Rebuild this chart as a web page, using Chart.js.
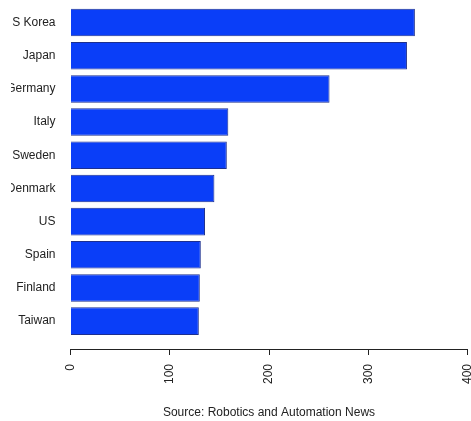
<!DOCTYPE html>
<html>
<head>
<meta charset="utf-8">
<script src="https://cdn.jsdelivr.net/npm/chart.js@4/dist/chart.umd.min.js"></script>
<style>
  html, body { margin: 0; padding: 0; background: #fff; }
  #clip { position: absolute; left: 11px; top: 0; width: 460px; height: 421px; overflow: hidden; }
  #c { position: absolute; left: -11px; top: 0; }
</style>
</head>
<body>
<div id="clip"><canvas id="c" width="471" height="421"></canvas></div>
<script>
const categories = ["S Korea", "Japan", "Germany", "Italy", "Sweden", "Denmark", "US", "Spain", "Finland", "Taiwan"];
const values = [347, 339, 261, 159, 157.5, 145, 135.5, 131.3, 130.3, 129.3];
const xTicks = [0, 100, 200, 300, 400];
const sourceText = "Source: Robotics and Automation News";

const font = { family: "'Liberation Sans', Arial, sans-serif", size: 12 };
const textColor = '#222';

function zeroPad(s) {
  s.paddingTop = 0; s.paddingBottom = 0; s.paddingLeft = 0; s.paddingRight = 0;
}

new Chart(document.getElementById('c'), {
  type: 'bar',
  data: {
    datasets: [{
      data: values.map((v, i) => ({ x: v, y: i })),
      backgroundColor: '#0a3ef8',
      borderColor: '#1c2f8f',
      borderWidth: 1,
      barPercentage: 0.83,
      categoryPercentage: 1
    }]
  },
  options: {
    indexAxis: 'y',
    responsive: false,
    animation: false,
    layout: { padding: { top: 6, right: 3.5, bottom: 0, left: 0 } },
    plugins: { legend: { display: false }, tooltip: { enabled: false } },
    scales: {
      y: {
        type: 'linear',
        reverse: true,
        offset: false,
        min: -0.5,
        max: 9.84,
        afterBuildTicks: s => { s.ticks = categories.map((_, i) => ({ value: i })); },
        afterFit: s => { s.width = 70.5; zeroPad(s); },
        grid: { display: false, drawTicks: false, offset: false },
        border: { display: false },
        ticks: {
          padding: 15,
          font: font,
          color: textColor,
          autoSkip: false,
          callback: v => categories[v] ?? ''
        }
      },
      x: {
        type: 'linear',
        offset: false,
        min: xTicks[0],
        max: xTicks[xTicks.length - 1],
        afterBuildTicks: s => { s.ticks = xTicks.map(v => ({ value: v })); },
        afterFit: s => { s.height = 72; zeroPad(s); },
        grid: { drawOnChartArea: false, drawTicks: true, tickLength: 6, color: '#222', lineWidth: 1 },
        border: { display: true, color: '#222', width: 1 },
        ticks: {
          padding: 9,
          font: font,
          color: textColor,
          minRotation: 90,
          maxRotation: 90,
          autoSkip: false
        },
        title: {
          display: true,
          text: sourceText,
          font: font,
          color: textColor,
          padding: { top: 4, bottom: 1 }
        }
      }
    }
  }
});
</script>
</body>
</html>
